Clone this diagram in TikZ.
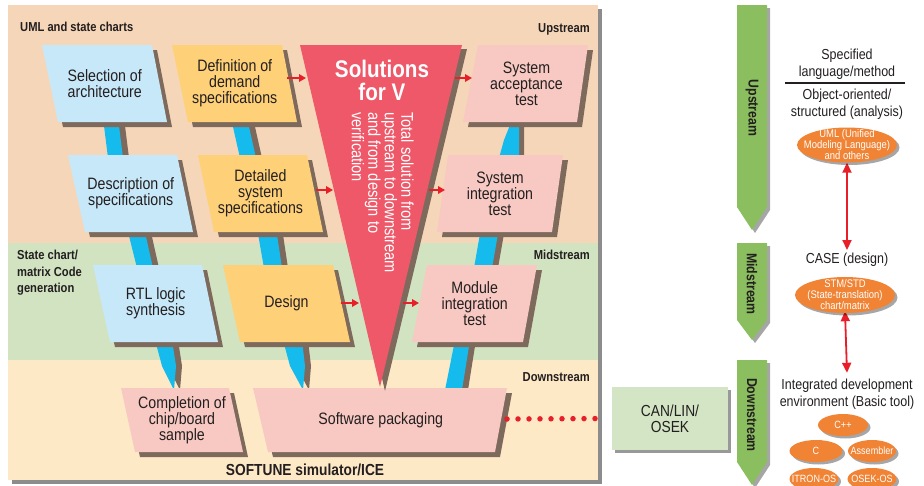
\documentclass[tikz,border=0pt]{standalone}
\usepackage{fontspec}
\setmainfont[FakeStretch=0.86]{Liberation Sans}
\usetikzlibrary{arrows.meta,shadows,shapes.geometric}
\pgfdeclarelayer{bg}
\pgfsetlayers{bg,main}
\definecolor{upc}{HTML}{F6D6B8}
\definecolor{midc}{HTML}{D2E3C1}
\definecolor{downc}{HTML}{FEE9C7}
\definecolor{bluec}{HTML}{C7E8F8}
\definecolor{orangec}{HTML}{FED078}
\definecolor{pinkc}{HTML}{F8C9C2}
\definecolor{vredc}{HTML}{EE5868}
\definecolor{shadc}{HTML}{7D6A5C}
\definecolor{cyanc}{HTML}{16BBEE}
\definecolor{greenc}{HTML}{8ABE5E}
\definecolor{ellc}{HTML}{F08334}
\definecolor{arrc}{HTML}{E81E28}
\definecolor{canc}{HTML}{D3E5C4}
\definecolor{txtc}{HTML}{231F20}
\tikzset{
  boxtxt/.style={align=center,text=txtc,inner sep=0pt,font=\fontsize{16.5}{16}\selectfont},
  lbl/.style={inner sep=0pt,text=txtc,align=left,font=\bfseries\fontsize{13}{16.5}\selectfont},
  rtxt/.style={inner sep=0pt,text=txtc,align=center,font=\fontsize{14.5}{16.5}\selectfont},
  redarr/.style={draw=arrc,line width=2.2pt,-{Triangle[length=7pt,width=7.5pt]}},
  linkarr/.style={draw=arrc,line width=1.8pt,{Triangle[length=10pt,width=9pt]}-{Triangle[length=10pt,width=9pt]}},
  gtxt/.style={inner sep=0pt,text=txtc,rotate=-90,font=\bfseries\fontsize{14.3}{16}\selectfont},
  gshadow/.style={drop shadow={shadow xshift=3pt,shadow yshift=-3pt,opacity=.35,fill=black}},
  ellshape/.style={ellipse,fill=ellc,inner sep=0pt,drop shadow={shadow xshift=2.5pt,shadow yshift=-2.5pt,opacity=.35,fill=black}},
  elltxt/.style={inner sep=0pt,text=white,align=center,font=\fontsize{11}{11}\selectfont},
  smalltxt/.style={inner sep=0pt,text=white,align=center,font=\fontsize{10.5}{11}\selectfont},
  dots/.style={draw=arrc,line width=5.5pt,line cap=round,dash pattern=on 0pt off 11pt},
  canbox/.style={fill=canc,minimum width=116pt,minimum height=63pt,inner sep=0pt,align=center,text=txtc,
     font=\fontsize{16}{16}\selectfont,drop shadow={shadow xshift=3pt,shadow yshift=-3pt,opacity=.4,fill=black}},
}
\newcommand\pbox[9]{%
  \fill[shadc] (#5+5,#3+5) -- (#6+5,#3+5) -- (#7+5,#4+5) -- (#8+5,#4+5) -- cycle;
  \fill[#2] (#5,#3) -- (#6,#3) -- (#7,#4) -- (#8,#4) -- cycle;
  \node[boxtxt] (#1) at ({(#5+#6+#7+#8)/4},{(#3+#4)/2}) {#9};
}
\newcommand\sbar[2]{%
  \fill[shadc,shift={(#1,0)}] #2;
  \fill[cyanc] #2;
}
\newcommand\smallell[6]{%
  \node[ellshape,minimum width=#4,minimum height=#5] (#1) at (#2,#3) {};
  \node[smalltxt] (#1t) at (#1) {#6};
}
\begin{document}
\begin{tikzpicture}[x=1pt,y=-1pt]
\useasboundingbox (0,0) rectangle (924,485);
% panel
\fill[upc,drop shadow={shadow xshift=4pt,shadow yshift=-4pt,opacity=.45,fill=black}] (8,5) rectangle (598,480);
\fill[midc] (8,243) rectangle (598,360);
\fill[downc] (8,360) rectangle (598,480);
% section labels
\node[lbl,anchor=west] (lumla) at (20,27) {UML and state charts};
\node[lbl,anchor=east] (lup) at (590,29) {Upstream};
\node[lbl,anchor=west] (lsc) at (17,273) {State chart/\\matrix Code\\generation};
\node[lbl,anchor=east] (lmid) at (590,255) {Midstream};
\node[lbl,anchor=east] (ldown) at (590,377) {Downstream};
\node[lbl,font=\bfseries\fontsize{16}{16}\selectfont] (soft) at (305,470) {SOFTUNE simulator/ICE};
% cyan links
\sbar{6}{(103,118) -- (118,118) -- (123,158) -- (108,158) -- cycle}
\sbar{6}{(127,228) -- (144,228) -- (153,268) -- (137,268) -- cycle}
\sbar{6}{(155,340) -- (172,340) -- (176,366) -- (174,390) -- (162,366) -- cycle}
\sbar{6}{(231,118) -- (247,118) -- (256,158) -- (240,158) -- cycle}
\sbar{6}{(257,228) -- (276,228) -- (282,268) -- (264,268) -- cycle}
\sbar{6}{(283,340) -- (302,340) -- (305,366) -- (303,390) -- (290,366) -- cycle}
\sbar{6}{(455,340) -- (470,340) -- (462,390) -- (445,390) -- cycle}
\sbar{6}{(481,228) -- (499,228) -- (492,268) -- (474,268) -- cycle}
\sbar{5}{(512,120) -- (519,120) -- (519,158) -- (499,158) -- (504,140) -- cycle}
% boxes
\pbox{sel}{bluec}{45}{122}{42}{152}{167}{58}{Selection of\\architecture}
\pbox{def}{orangec}{45}{122}{172}{282}{297}{188}{Definition of\\demand\\specifications}
\pbox{desc}{bluec}{155}{232}{68}{177}{193}{85}{Description of\\specifications}
\pbox{detail}{orangec}{155}{232}{198}{307}{323}{214}{Detailed\\system\\specifications}
\pbox{rtl}{bluec}{265}{342}{93}{202}{218}{110}{RTL logic\\synthesis}
\pbox{design}{orangec}{265}{342}{223}{333}{350}{240}{Design}
\pbox{compl}{pinkc}{388}{452}{121}{229}{243}{135}{Completion of\\chip/board\\sample}
\pbox{swpack}{pinkc}{388}{452}{253}{507}{495}{268}{Software packaging}
\pbox{acc}{pinkc}{45}{122}{478}{588}{577}{463}{System\\acceptance\\test}
\pbox{sysint}{pinkc}{155}{232}{448}{563}{552}{437}{System\\integration\\test}
\pbox{modint}{pinkc}{265}{342}{427}{537}{523}{412}{Module\\integration\\test}
% V
\fill[shadc] (305,49) -- (467,49) -- (385,391) -- cycle;
\fill[vredc] (300,45) -- (462,45) -- (380,387) -- cycle;
\node[inner sep=0pt,text=white,align=center,font=\bfseries\fontsize{24}{23}\selectfont] (vtitle) at (382,80) {Solutions\\for V};
\node[inner sep=0pt,text=white,align=left,rotate=-90,anchor=north west,font=\fontsize{17}{16.5}\selectfont] (vtext) at (414,112) {Total solution from\\upstream to downstream\\and from design to\\verification};
% red arrows
\coordinate (a1s) at (287,78);  \coordinate (a1e) at (306,78);
\coordinate (a2s) at (455,78);  \coordinate (a2e) at (472,78);
\coordinate (a3s) at (316,190); \coordinate (a3e) at (333,190);
\coordinate (a4s) at (429,190); \coordinate (a4e) at (445,190);
\coordinate (a5s) at (341,303); \coordinate (a5e) at (359,303);
\coordinate (a6s) at (403,303); \coordinate (a6e) at (419,303);
\draw[redarr] (a1s) -- (a1e);
\draw[redarr] (a2s) -- (a2e);
\draw[redarr] (a3s) -- (a3e);
\draw[redarr] (a4s) -- (a4e);
\draw[redarr] (a5s) -- (a5e);
\draw[redarr] (a6s) -- (a6e);
% CAN box and dotted link
\node[canbox] (can) at (670,418.5) {CAN/LIN/\\OSEK};
\coordinate (swR) at (507,419);
\draw[dots] (swR) -- ([xshift=-6pt]can.west);
% green stream arrows
\fill[greenc,gshadow] (737,5) -- (767,5) -- (767,207) -- (752,230) -- (737,207) -- cycle;
\fill[greenc,gshadow] (737,243) -- (767,243) -- (767,320) -- (752,340) -- (737,320) -- cycle;
\fill[greenc,gshadow] (737,360) -- (767,360) -- (767,462) -- (752,485) -- (737,462) -- cycle;
\node[gtxt] (gup) at (752,108) {Upstream};
\node[gtxt] (gmid) at (752,284) {Midstream};
\node[gtxt] (gdown) at (752,415) {Downstream};
% right column
\node[rtxt] (spec) at (847,64) {Specified\\language/method};
\coordinate (sepL) at (785,83); \coordinate (sepR) at (905,83);
\draw[line width=1.3pt,txtc] (sepL) -- (sepR);
\node[rtxt] (oo) at (847,104) {Object-oriented/\\structured (analysis)};
\node[ellshape,minimum width=100pt,minimum height=35pt] (uml) at (847,145) {};
\node[elltxt] (umlt) at (uml) {UML (Unified\\Modeling Language)\\and others};
\node[rtxt] (case) at (847,260) {CASE (design)};
\node[ellshape,minimum width=100pt,minimum height=36pt] (stm) at (845,295) {};
\node[elltxt] (stmt) at (stm) {STM/STD\\(State-translation)\\chart/matrix};
\node[rtxt] (integ) at (847,394) {Integrated development\\environment (Basic tool)};
\smallell{cpp}{843}{425}{50pt}{22pt}{C++}
\smallell{cc}{816}{451}{53pt}{22pt}{C}
\smallell{asm}{872}{451}{48pt}{22pt}{Assembler}
\smallell{itron}{814}{479}{49pt}{22pt}{ITRON-OS}
\smallell{osek}{872}{479}{49pt}{22pt}{OSEK-OS}
\begin{pgfonlayer}{bg}
\draw[linkarr] (uml.south) -- ([yshift=3pt]case.north);
\draw[linkarr] ([yshift=2pt]stm.south) -- ([yshift=6pt]integ.north);
\end{pgfonlayer}
\end{tikzpicture}
\end{document}
